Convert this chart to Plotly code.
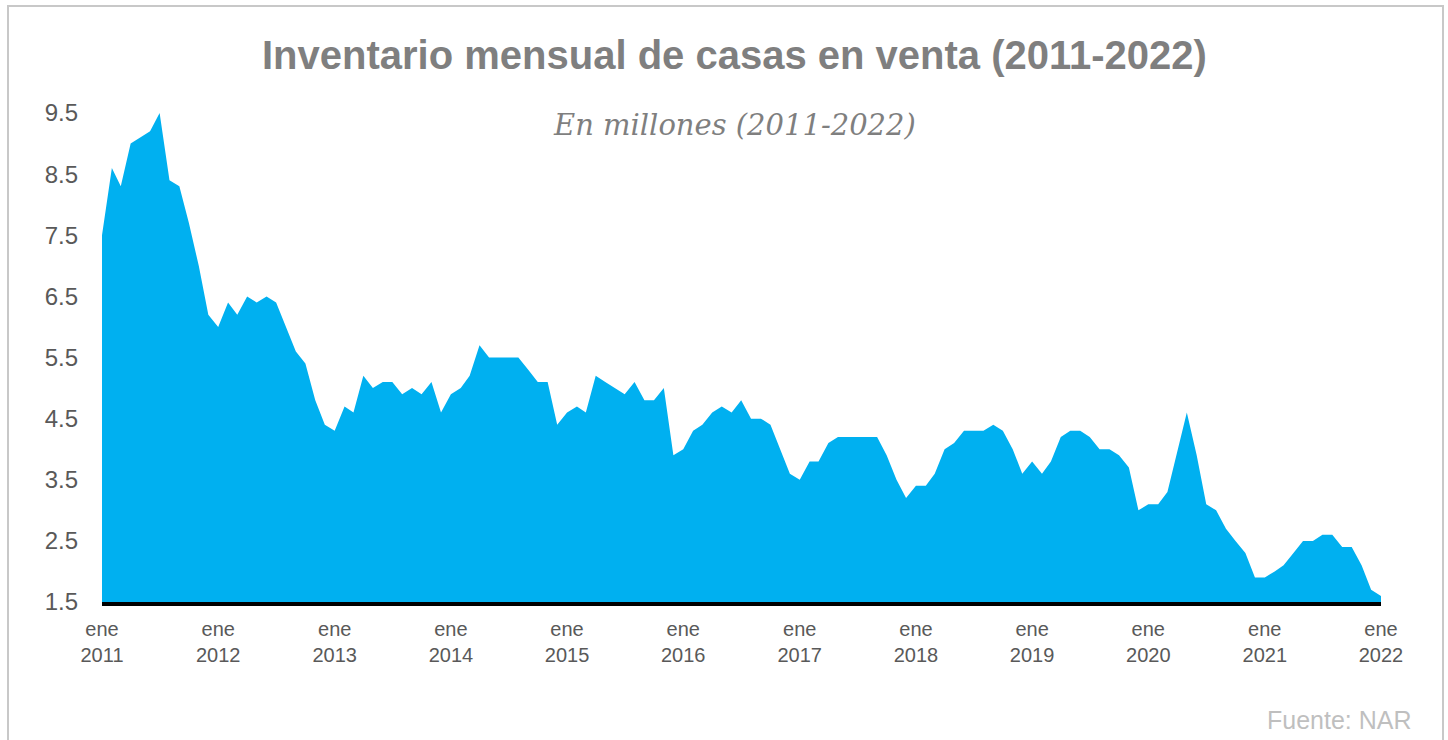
import pandas as pd
import plotly.graph_objects as go

# Monthly inventory (millions), Jan 2011 .. Jan 2022
v2011 = [7.5, 8.6, 8.3, 9.0, 9.1, 9.2, 9.5, 8.4, 8.3, 7.7, 7.0, 6.2]
v2012 = [6.0, 6.4, 6.2, 6.5, 6.4, 6.5, 6.4, 6.0, 5.6, 5.4, 4.8, 4.4]
v2013 = [4.3, 4.7, 4.6, 5.2, 5.0, 5.1, 5.1, 4.9, 5.0, 4.9, 5.1, 4.6]
v2014 = [4.9, 5.0, 5.2, 5.7, 5.5, 5.5, 5.5, 5.5, 5.3, 5.1, 5.1, 4.4]
v2015 = [4.6, 4.7, 4.6, 5.2, 5.1, 5.0, 4.9, 5.1, 4.8, 4.8, 5.0, 3.9]
v2016 = [4.0, 4.3, 4.4, 4.6, 4.7, 4.6, 4.8, 4.5, 4.5, 4.4, 4.0, 3.6]
v2017 = [3.5, 3.8, 3.8, 4.1, 4.2, 4.2, 4.2, 4.2, 4.2, 3.9, 3.5, 3.2]
v2018 = [3.4, 3.4, 3.6, 4.0, 4.1, 4.3, 4.3, 4.3, 4.4, 4.3, 4.0, 3.6]
v2019 = [3.8, 3.6, 3.8, 4.2, 4.3, 4.3, 4.2, 4.0, 4.0, 3.9, 3.7, 3.0]
v2020 = [3.1, 3.1, 3.3, 3.95, 4.6, 3.9, 3.1, 3.0, 2.7, 2.5, 2.3, 1.9]
v2021 = [1.9, 2.0, 2.1, 2.3, 2.5, 2.5, 2.6, 2.6, 2.4, 2.4, 2.1, 1.7]
v2022 = [1.6]

values = v2011 + v2012 + v2013 + v2014 + v2015 + v2016 + v2017 + v2018 + v2019 + v2020 + v2021 + v2022
months = pd.date_range("2011-01-01", periods=len(values), freq="MS")

tick_years = list(range(2011, 2023))
tick_vals = [f"{y}-01-01" for y in tick_years]
tick_text = [f"ene<br>{y}" for y in tick_years]
y_ticks = [1.5, 2.5, 3.5, 4.5, 5.5, 6.5, 7.5, 8.5, 9.5]

title_text = "Inventario mensual de casas en venta (2011-2022)"
subtitle_text = "En millones (2011-2022)"
source_text = "Fuente: NAR"

W, H = 1448, 740
L, R, T, B = 102, 67, 113, 138
pw, ph = W - L - R, H - T - B

def px(x):
    return (x - L) / pw

def py(y):
    return (H - B - y) / ph

fig = go.Figure()
fig.add_trace(go.Scatter(
    x=months, y=values, mode="lines", fill="tozeroy",
    line=dict(width=0, color="#00B0F0"), fillcolor="#00B0F0",
    hoverinfo="x+y", showlegend=False,
))

fig.update_layout(
    width=W, height=H,
    margin=dict(l=L, r=R, t=T, b=B),
    paper_bgcolor="white", plot_bgcolor="white",
    font=dict(family="Liberation Sans, Arial, sans-serif", color="#595959"),
    xaxis=dict(
        type="date", range=["2011-01-01", "2022-01-01"],
        tickmode="array", tickvals=tick_vals, ticktext=tick_text,
        tickfont=dict(size=20, color="#595959"),
        showgrid=False, zeroline=False,
        showline=True, linecolor="black", linewidth=4,
        ticks="", ticklabelstandoff=6,
    ),
    yaxis=dict(
        range=[1.5, 9.5], tickmode="array", tickvals=y_ticks,
        ticktext=[f"{v:.1f}" for v in y_ticks],
        tickfont=dict(size=24, color="#595959"),
        showgrid=False, zeroline=False, showline=False,
        ticks="", ticklabelstandoff=23,
    ),
    shapes=[dict(
        type="rect", xref="paper", yref="paper",
        x0=px(8), x1=px(1443), y0=py(6), y1=py(780),
        line=dict(color="#C8C8C8", width=2), fillcolor="rgba(0,0,0,0)",
        layer="below",
    )],
    annotations=[
        dict(text=f"<b>{title_text}</b>", xref="paper", yref="paper",
             x=px(734), y=py(55), xanchor="center", yanchor="middle",
             showarrow=False,
             font=dict(size=40, color="#7F7F7F", family="Liberation Sans, Arial, sans-serif")),
        dict(text=f"<i>{subtitle_text}</i>", xref="paper", yref="paper",
             x=px(734), y=py(125), xanchor="center", yanchor="middle",
             showarrow=False,
             font=dict(size=29, color="#7F7F7F", family="DejaVu Serif, Georgia, serif")),
        dict(text=source_text, xref="paper", yref="paper",
             x=px(1414), y=py(720), xanchor="right", yanchor="middle",
             showarrow=False,
             font=dict(size=25, color="#BFBFBF", family="Liberation Sans, Arial, sans-serif")),
    ],
)

fig.write_html("out.html")
